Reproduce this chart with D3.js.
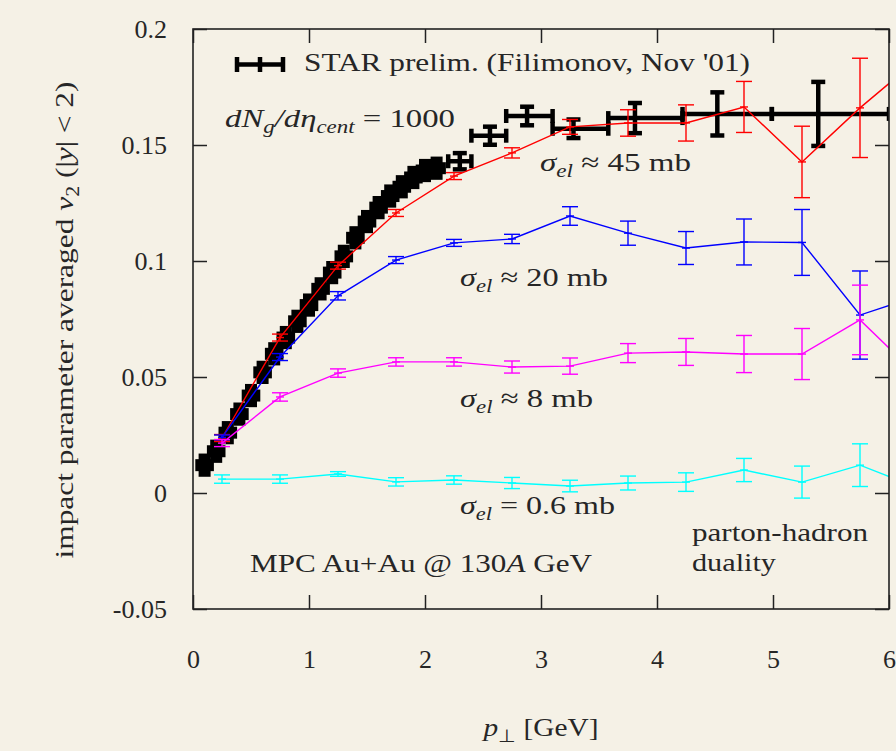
<!DOCTYPE html>
<html>
<head>
<meta charset="utf-8">
<script src="https://cdn.jsdelivr.net/npm/d3@7"></script>
<style>
  html, body { margin: 0; padding: 0; background: #f5f1e6; }
  svg { display: block; }
  text { font-family: "Liberation Serif", "Times New Roman", serif; fill: #262626; }
</style>
</head>
<body>
<svg id="chart" width="896" height="751"></svg>
<script>
// ---- axis ticks ----
const xTicks = [0, 1, 2, 3, 4, 5, 6];
const yTicks = [-0.05, 0, 0.05, 0.1, 0.15, 0.2];
const yTickLabels = ["-0.05", "0", "0.05", "0.1", "0.15", "0.2"];

// ---- STAR preliminary v2(pT): bin centre, value, stat. error, bin edges ----
const starPt  = [0.1,0.2,0.3,0.4,0.5,0.6,0.7,0.8,0.9,1.0,1.1,1.2,1.3,1.4,1.5,1.6,1.7,1.8,1.9,2.0,2.1,2.3,2.56,2.88,3.28,3.81,4.52,5.39];
const starV   = [0.012,0.018,0.026,0.034,0.042,0.052,0.060,0.067,0.074,0.081,0.088,0.095,0.102,0.110,0.117,0.123,0.128,0.132,0.136,0.139,0.140,0.143,0.154,0.1625,0.157,0.1616,0.1634,0.1634];
const starErr = [0.0035,0.0035,0.0035,0.0035,0.0035,0.0035,0.0035,0.0035,0.0035,0.0035,0.0035,0.0035,0.0035,0.0035,0.0035,0.0035,0.0035,0.0035,0.0035,0.0035,0.0035,0.0035,0.0039,0.004,0.004,0.0065,0.0093,0.0138];
const starLo  = [0.05,0.15,0.25,0.35,0.45,0.55,0.65,0.75,0.85,0.95,1.05,1.15,1.25,1.35,1.45,1.55,1.65,1.75,1.85,1.95,2.05,2.2,2.4,2.7,3.1,3.58,4.22,4.99];
const starHi  = [0.15,0.25,0.35,0.45,0.55,0.65,0.75,0.85,0.95,1.05,1.15,1.25,1.35,1.45,1.55,1.65,1.75,1.85,1.95,2.05,2.15,2.4,2.7,3.1,3.58,4.22,4.99,6.0];

// ---- MPC transport results, one series per elastic cross section ----
const modelPt = [0.25,0.75,1.25,1.75,2.25,2.75,3.25,3.75,4.25,4.75,5.25,5.75,6.25];
const v2_45mb  = [0.0237,0.067,0.098,0.1207,0.1366,0.1466,0.1578,0.1595,0.1595,0.1664,0.1427,0.166,0.187];
const err_45mb = [0.0015,0.0015,0.0015,0.0015,0.0015,0.0022,0.0032,0.0057,0.0078,0.011,0.0154,0.0214,0.028];
const v2_20mb  = [0.024,0.0586,0.085,0.1004,0.1078,0.1095,0.1194,0.112,0.1056,0.1082,0.108,0.0767,0.085];
const err_20mb = [0.001,0.0015,0.0018,0.0015,0.0015,0.002,0.004,0.0052,0.0071,0.0099,0.0142,0.019,0.025];
const v2_8mb   = [0.0215,0.0414,0.0517,0.0565,0.0565,0.0543,0.0547,0.0603,0.0608,0.0599,0.0599,0.0746,0.0504];
const err_8mb  = [0.0015,0.0018,0.0018,0.0018,0.0018,0.0026,0.0035,0.0041,0.0058,0.008,0.011,0.015,0.02];
const v2_06mb  = [0.006,0.006,0.0082,0.0048,0.0056,0.0043,0.003,0.0043,0.0047,0.0099,0.0047,0.012,0.0022];
const err_06mb = [0.0018,0.0018,0.001,0.0018,0.0018,0.0024,0.0025,0.003,0.004,0.005,0.0069,0.0092,0.012];

const seriesColors = ["#ff0000", "#0000ff", "#ff00ff", "#00ffff"];

// ---- layout ----
const svg = d3.select("#chart");
const W = 896, H = 751;
const plotLeft = 193, plotRight = 889, plotTop = 29, plotBottom = 609;
svg.append("rect").attr("width", W).attr("height", H).attr("fill", "#f5f1e6");

const x = d3.scaleLinear().domain([0, 6]).range([plotLeft, plotRight]);
const y = d3.scaleLinear().domain([-0.05, 0.2]).range([plotBottom, plotTop]);

svg.append("clipPath").attr("id", "plotClip")
  .append("rect").attr("x", plotLeft).attr("y", plotTop)
  .attr("width", plotRight - plotLeft).attr("height", plotBottom - plotTop);

const plot = svg.append("g").attr("clip-path", "url(#plotClip)");

// ---- STAR data: thick black xy-error bars ----
// narrow bins get a heavier pen so that neighbouring points merge into a band
const star = starPt.map((p, i) => ({ p, v: starV[i], e: starErr[i], lo: starLo[i], hi: starHi[i] }));
const gStar = plot.append("g").attr("stroke", "#000").attr("fill", "none");
star.forEach(d => {
  const narrow = (d.hi - d.lo) < 0.15;
  const cap = narrow ? 6 : 7;
  const g = gStar.append("g").attr("stroke-width", narrow ? 7 : 4.5);
  const cy = y(d.v), cx = x(d.p);
  g.append("line").attr("x1", x(d.lo)).attr("x2", x(d.hi)).attr("y1", cy).attr("y2", cy);
  [d.lo, d.hi].forEach(b => g.append("line")
    .attr("x1", x(b)).attr("x2", x(b)).attr("y1", cy - cap).attr("y2", cy + cap));
  g.append("line").attr("x1", cx).attr("x2", cx).attr("y1", y(d.v - d.e)).attr("y2", y(d.v + d.e));
  [d.v - d.e, d.v + d.e].forEach(b => g.append("line")
    .attr("x1", cx - cap).attr("x2", cx + cap).attr("y1", y(b)).attr("y2", y(b)));
});

// ---- model curves with vertical error bars ----
const models = [
  { v: v2_45mb, e: err_45mb },
  { v: v2_20mb, e: err_20mb },
  { v: v2_8mb,  e: err_8mb  },
  { v: v2_06mb, e: err_06mb }
];
const line = d3.line().x(d => x(d.p)).y(d => y(d.v));
models.forEach((m, k) => {
  const pts = modelPt.map((p, i) => ({ p, v: m.v[i], e: m.e[i] }));
  const g = plot.append("g").attr("stroke", seriesColors[k]).attr("stroke-width", 1.4).attr("fill", "none");
  g.append("path").attr("d", line(pts));
  pts.forEach(d => {
    const cx = x(d.p);
    g.append("line").attr("x1", cx).attr("x2", cx).attr("y1", y(d.v - d.e)).attr("y2", y(d.v + d.e));
    [d.v - d.e, d.v + d.e].forEach(b => g.append("line")
      .attr("x1", cx - 8).attr("x2", cx + 8).attr("y1", y(b)).attr("y2", y(b)));
    g.append("line").attr("x1", cx - 4).attr("x2", cx + 4).attr("y1", y(d.v)).attr("y2", y(d.v));
  });
});

// ---- frame and ticks (ticks point inward on all four sides) ----
const axisColor = "#222";
const fontSize = 26;
const ax = [
  svg.append("g").attr("transform", `translate(0,${plotBottom})`)
    .call(d3.axisBottom(x).tickValues(xTicks).tickSizeInner(-14).tickSizeOuter(0).tickPadding(40.5).tickFormat(d3.format("d"))),
  svg.append("g").attr("transform", `translate(0,${plotTop})`)
    .call(d3.axisTop(x).tickValues(xTicks).tickSizeInner(-14).tickSizeOuter(0).tickFormat("")),
  svg.append("g").attr("transform", `translate(${plotLeft},0)`)
    .call(d3.axisLeft(y).tickValues(yTicks).tickSizeInner(-14).tickSizeOuter(0).tickPadding(26)
      .tickFormat((d, i) => yTickLabels[i])),
  svg.append("g").attr("transform", `translate(${plotRight},0)`)
    .call(d3.axisRight(y).tickValues(yTicks).tickSizeInner(-14).tickSizeOuter(0).tickFormat(""))
];
ax.forEach(g => {
  g.select(".domain").remove();
  g.selectAll(".tick line").attr("stroke", axisColor).attr("stroke-width", 1.5);
  g.selectAll(".tick text").attr("font-size", fontSize)
    .attr("font-family", '"Liberation Serif", serif').attr("fill", "#262626");
});
svg.append("rect").attr("x", plotLeft).attr("y", plotTop)
  .attr("width", plotRight - plotLeft).attr("height", plotBottom - plotTop)
  .attr("fill", "none").attr("stroke", axisColor).attr("stroke-width", 1.6);

// ---- rich text helper: parts = [{t, i (italic), s (subscript)}] ----
function rich(parent, xPos, yPos, parts, len, opts = {}) {
  const size = opts.size || fontSize;
  const t = parent.append("text").attr("x", xPos).attr("y", yPos).attr("font-size", size);
  if (opts.anchor) t.attr("text-anchor", opts.anchor);
  if (opts.transform) t.attr("transform", opts.transform);
  let shifted = false;
  parts.forEach(pt => {
    const ts = t.append("tspan").text(pt.t);
    if (pt.i) ts.attr("font-style", "italic");
    if (pt.s) {
      ts.attr("font-size", size * 0.7);
      if (!shifted) { ts.attr("dy", 6); shifted = true; }
    } else if (shifted) {
      ts.attr("dy", -6); shifted = false;
    }
  });
  if (len) t.attr("textLength", len).attr("lengthAdjust", "spacingAndGlyphs");
  return t;
}

// ---- legend ----
const leg = svg.append("g").attr("stroke", "#000").attr("stroke-width", 4.5);
leg.append("line").attr("x1", 237).attr("x2", 283).attr("y1", 64.5).attr("y2", 64.5);
[237, 260, 283].forEach(px => leg.append("line")
  .attr("x1", px).attr("x2", px).attr("y1", 57).attr("y2", 72));
rich(svg, 304, 71, [{ t: "STAR prelim. (Filimonov, Nov '01)" }], 446);

// ---- annotations ----
rich(svg, 225, 127, [
  { t: "dN", i: true }, { t: "g", i: true, s: true }, { t: "/dη", i: true },
  { t: "cent", i: true, s: true }, { t: " = 1000" }
], 230);
const sigmaLabels = [
  { x: 540, y: 171, rel: " ≈ 45 mb", len: 151 },
  { x: 460, y: 286, rel: " ≈ 20 mb", len: 148 },
  { x: 460, y: 407, rel: " ≈ 8 mb",  len: 133 },
  { x: 460, y: 514, rel: " = 0.6 mb", len: 155 }
];
sigmaLabels.forEach(s => rich(svg, s.x, s.y, [
  { t: "σ", i: true }, { t: "el", i: true, s: true }, { t: s.rel }
], s.len));
rich(svg, 250, 572, [{ t: "MPC Au+Au @ 130" }, { t: "A", i: true }, { t: " GeV" }], 342);
rich(svg, 692, 541, [{ t: "parton-hadron" }], 176);
rich(svg, 692, 571, [{ t: "duality" }], 84);

// ---- axis titles ----
rich(svg, 541, 736, [{ t: "p", i: true }, { t: "⊥", s: true }, { t: " [GeV]" }], 115, { anchor: "middle" });
rich(svg, 0, 0, [
  { t: "impact parameter averaged " }, { t: "v", i: true }, { t: "2", s: true },
  { t: " (|" }, { t: "y", i: true }, { t: "| < 2)" }
], 477, { anchor: "middle", transform: "translate(73,320) rotate(-90)" });
</script>
</body>
</html>
